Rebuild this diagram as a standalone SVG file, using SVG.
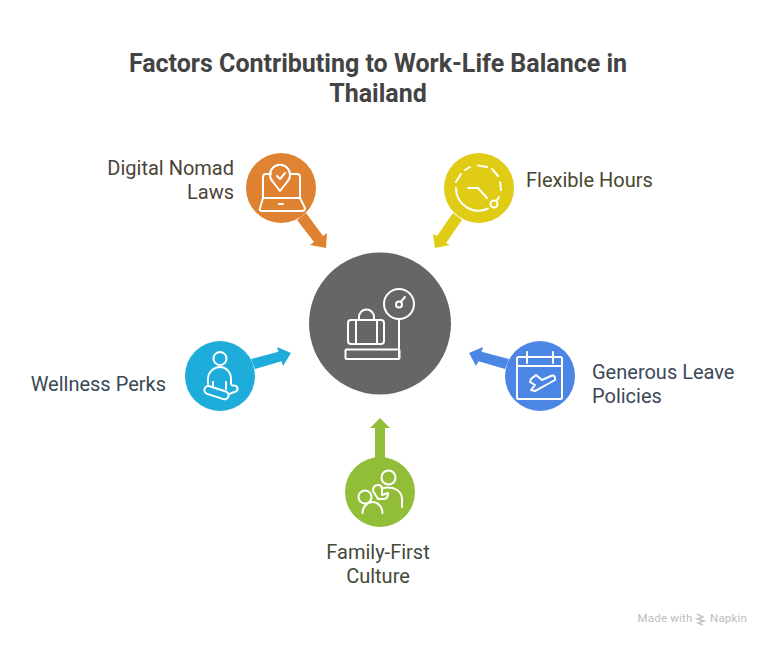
<svg xmlns="http://www.w3.org/2000/svg" width="770" height="646" viewBox="0 0 770 646">
<style>
text{font-family:Roboto,"Liberation Sans",sans-serif}
.title{font-size:25px;font-weight:700;fill:#434343;text-anchor:middle}
.lbl{font-size:20px}
.ic{fill:none;stroke:#fff;stroke-width:2;stroke-linecap:round;stroke-linejoin:round}
.foot{font-size:11.500px;fill:#bdbdbd;letter-spacing:.2px}
</style>
<rect width="770" height="646" fill="#fff"/>
<g id="title">
<text class="title" x="378" y="72">Factors Contributing to Work-Life Balance in</text>
<text class="title" x="378" y="102">Thailand</text>
</g>
<g id="connectors">
<polygon fill="#DF8232" points="297,220 306,213 323,236 327,233 326,248 310,245 314,242"/>
<polygon fill="#E0CB15" points="453,213 462,220 446,243 450,245 435,248 433,234 437,236"/>
<polygon fill="#1EACDB" points="251,359 278.500,351.700 277,347 291,353 283,366 281.500,361.300 255,369"/>
<polygon fill="#4C86E4" points="509,359 481.500,351.700 483,347 469,353 476,366 478.500,361.300 505,369"/>
<polygon fill="#92BD39" points="375,458 375,428 370,428 380,418 390,428 385,428 385,458"/>
</g>
<g id="node-center">
<circle cx="380" cy="323.500" r="71" fill="#666"/>
<g class="ic">
<circle cx="399" cy="304" r="15"/>
<circle cx="399" cy="304.500" r="3"/>
<path d="M401 301.500L405 297M399 320V358"/>
<rect x="345.500" y="349.500" width="54" height="9.500" rx="1"/>
<rect x="348" y="320" width="36" height="24" rx="3"/>
<path d="M356 320V344M377 320V344M359 319V317A7.500 7.500 0 0 1 374 317V319"/>
</g>
</g>
<g id="node-digital-nomad">
<circle cx="281" cy="188" r="35" fill="#DF8232"/>
<g class="ic">
<path d="M263 198V177Q263 174 266 174H271M291 174H297Q300 174 300 177V198"/>
<path d="M263 198H300L305 208Q305 211 302 211H262Q259 211 260 208Z"/>
<path d="M279 204H283"/>
<path d="M280 191L273 182A10 10 0 1 1 287 182Z"/>
<path d="M277 176L280 179L285 173"/>
</g>
<text class="lbl" fill="#4D4237" text-anchor="end" x="234" y="175">Digital Nomad</text>
<text class="lbl" fill="#4D4237" text-anchor="end" x="234" y="199">Laws</text>
</g>
<g id="node-flexible-hours">
<circle cx="479" cy="188" r="35" fill="#E0CB15"/>
<g class="ic">
<path d="M456 182L461 174M465 170L470 167M478 165.500L487 167M492 169L498 176M500 182L501 190M499 197L497 200"/>
<path d="M456 188A22.500 22.500 0 0 0 488 208.500"/>
<circle cx="494" cy="204" r="3.500"/>
<path d="M468 188H478L487 198"/>
</g>
<text class="lbl" fill="#49472F" x="526" y="187">Flexible Hours</text>
</g>
<g id="node-wellness">
<circle cx="220" cy="376" r="35" fill="#1EACDB"/>
<g class="ic">
<circle cx="220" cy="358.500" r="6.500"/>
<path d="M208 384V379C208 372 214 367 220 367S231 372 231 379V384"/>
<path d="M213 382V387M226 382V389"/>
<rect x="204" y="388.500" width="25" height="8" rx="4" transform="rotate(18 216 392.500)"/>
<path d="M232 385.500H234A3.200 3.200 0 0 1 234.500 392L229 394"/>
</g>
<text class="lbl" fill="#374955" text-anchor="end" x="166" y="391">Wellness Perks</text>
</g>
<g id="node-leave">
<circle cx="540" cy="376" r="35" fill="#4C86E4"/>
<g class="ic">
<rect x="517" y="357" width="45" height="42" rx="1.500"/>
<path d="M517 366H562M527 352V363M553 352V363"/>
<path d="M531 379L536 375L542 380L552 375.500Q555.500 375 555 380L546 385L535 391L531 390L535 385L530 382Z"/>
</g>
<text class="lbl" fill="#3C4759" x="592" y="379">Generous Leave</text>
<text class="lbl" fill="#3C4759" x="592" y="403">Policies</text>
</g>
<g id="node-family">
<circle cx="380" cy="492" r="35" fill="#92BD39"/>
<g class="ic">
<circle cx="388.500" cy="477.500" r="7"/>
<path d="M383 488C394 486 402 491 402 499V507"/>
<circle cx="365" cy="497" r="6.500"/>
<path d="M362.500 513C362.500 507 367 502 372.500 502S382.500 507 382.500 513"/>
<path d="M378 499L373 491Q373 485 378 485Q382 485 382 489V495L388 493Q388 499 384 499Z"/>
</g>
<text class="lbl" fill="#434A38" text-anchor="middle" x="378" y="559">Family-First</text>
<text class="lbl" fill="#434A38" text-anchor="middle" x="378" y="583">Culture</text>
</g>
<g id="footer">
<text class="foot" x="637.500" y="622">Made with</text>
<path d="M697 614L703 617L697 619L704 621L698 623L703 625" fill="none" stroke="#c4c4c4" stroke-width="1.500"/>
<text class="foot" x="710" y="622">Napkin</text>
</g>
</svg>
